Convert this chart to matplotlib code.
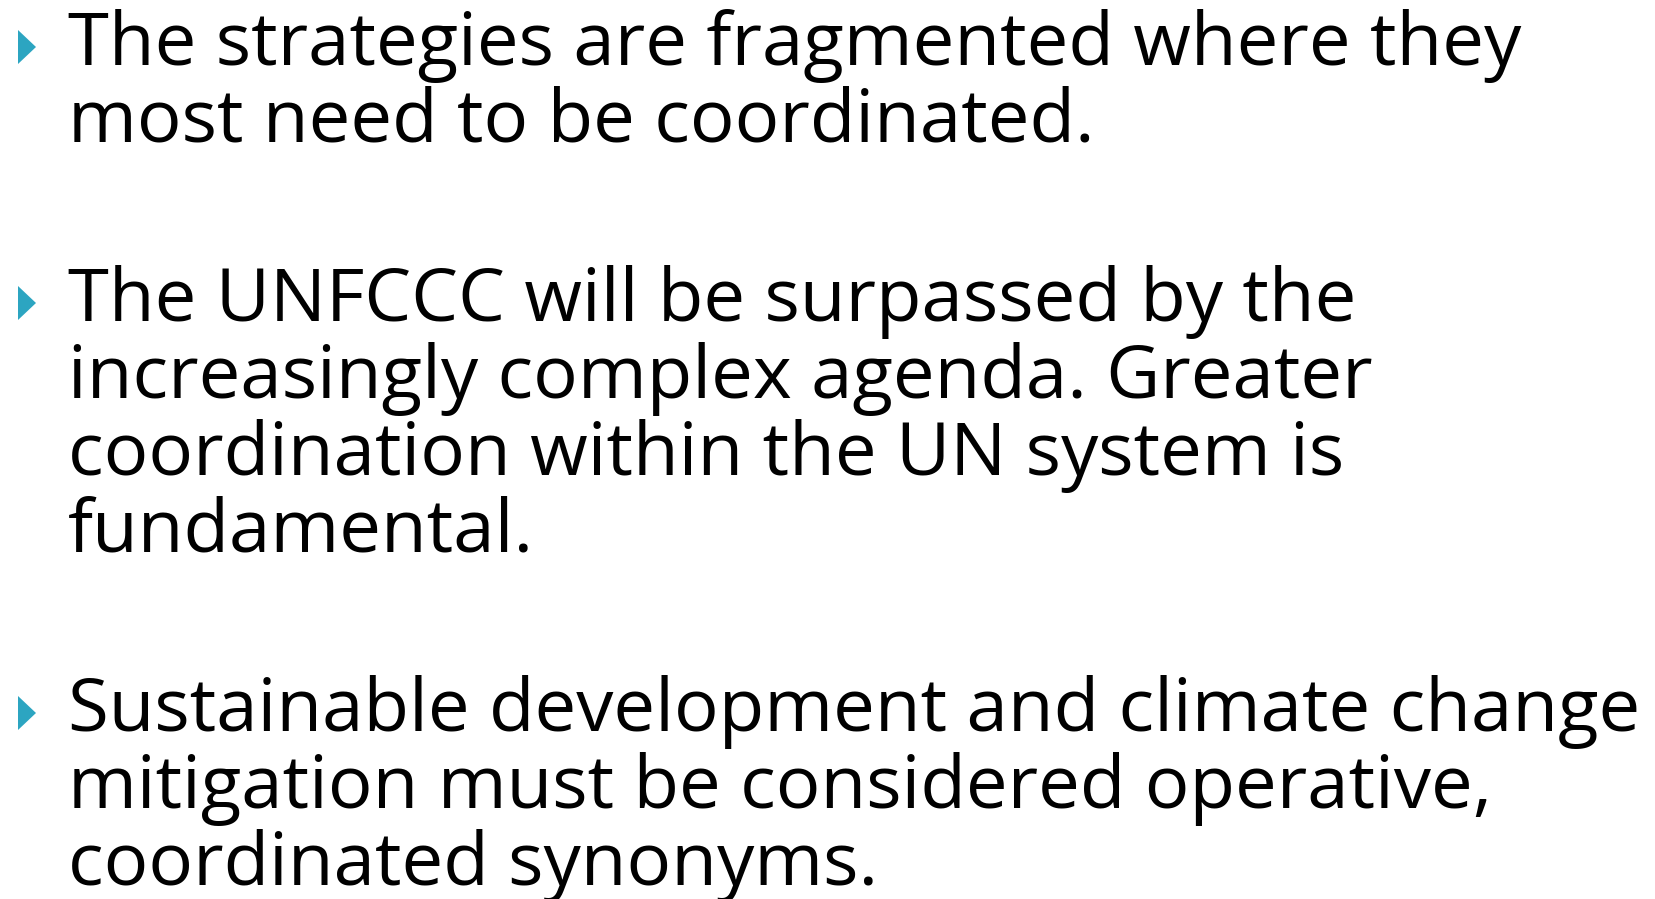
import matplotlib
matplotlib.use("Agg")
import matplotlib.pyplot as plt
from matplotlib.patches import Polygon

bullet1 = ["The strategies are fragmented where they",
           "most need to be coordinated."]
bullet2 = ["The UNFCCC will be surpassed by the",
           "increasingly complex agenda. Greater",
           "coordination within the UN system is",
           "fundamental."]
bullet3 = ["Sustainable development and climate change",
           "mitigation must be considered operative,",
           "coordinated synonyms."]
bullets = [bullet1, bullet2, bullet3]
first_baselines = [65, 321, 731]

W, H = 1655, 899
fig = plt.figure(figsize=(W / 100, H / 100), dpi=100)
ax = fig.add_axes([0, 0, 1, 1])
ax.set_xlim(0, W)
ax.set_ylim(H, 0)
ax.axis("off")

line_step = 77
text_x = 68
fs = 53.6
for lines, y0 in zip(bullets, first_baselines):
    cy = y0 - 18
    tri = Polygon([(18, cy - 17), (18, cy + 17), (36, cy)], closed=True,
                  facecolor="#2CA5C1", edgecolor="none")
    ax.add_patch(tri)
    for i, s in enumerate(lines):
        ax.text(text_x, y0 + i * line_step, s, fontsize=fs, color="black",
                family="Open Sans", va="baseline", ha="left")

fig.savefig("out.png", dpi=100, facecolor="white")
